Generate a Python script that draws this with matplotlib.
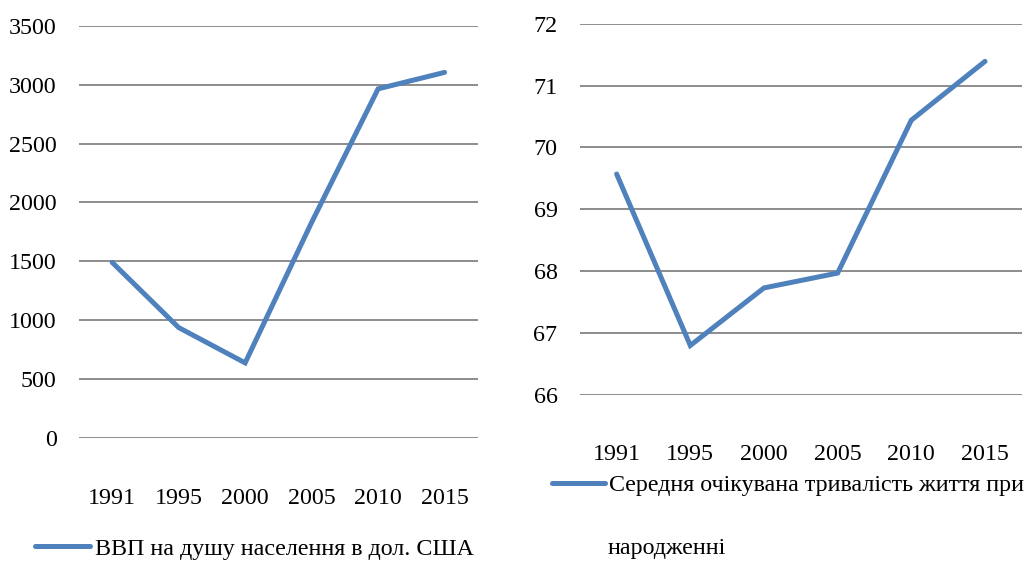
import matplotlib
matplotlib.use("Agg")
import matplotlib.pyplot as plt

years = ["1991", "1995", "2000", "2005", "2010", "2015"]
gdp = [1490, 936, 636, 1830, 2965, 3105]
life = [69.57, 66.80, 67.73, 67.97, 70.44, 71.39]

gdp_label = "ВВП на душу населення в дол. США"
life_label = "Середня очікувана тривалість життя при"
life_label2 = "народженні"

FS = 17.3
plt.rcParams['font.family'] = ['Liberation Serif', 'DejaVu Serif']
plt.rcParams['font.size'] = FS

color = "#4F81BD"
grid_color = "#8c8c8c"

fig = plt.figure(figsize=(10.28, 5.61), dpi=100)
ax1 = fig.add_axes([0.0768, 0.2198, 0.388, 0.734])
ax2 = fig.add_axes([0.564, 0.2959, 0.430, 0.662])

def style(ax, yticks, xpad):
    for s in ax.spines.values():
        s.set_visible(False)
    ax.set_yticks(yticks)
    ax.yaxis.grid(True, color=grid_color, linewidth=1.4)
    ax.set_axisbelow(True)
    ax.tick_params(axis='both', length=0, labelsize=FS)
    ax.tick_params(axis='y', pad=16)
    ax.tick_params(axis='x', pad=xpad)
    ax.set_xlim(-0.5, len(years) - 0.5)

x = range(len(years))
l1, = ax1.plot(x, gdp, color=color, linewidth=3.6, solid_capstyle='round', solid_joinstyle='miter')
ax1.set_ylim(0, 3500)
style(ax1, range(0, 3501, 500), 36)
ax1.set_xticks(list(x))
ax1.set_xticklabels(years)

l2, = ax2.plot(x, life, color=color, linewidth=3.6, solid_capstyle='round', solid_joinstyle='miter')
ax2.set_ylim(66, 72)
style(ax2, range(66, 73), 35)
ax2.set_xticks(list(x))
ax2.set_xticklabels(years)

fig.legend([l1], [gdp_label], loc='center left', bbox_to_anchor=(0.034, 0.022),
           frameon=False, handlelength=2.3, handletextpad=0.2, fontsize=FS,
           borderpad=0, borderaxespad=0)
fig.legend([l2], [life_label], loc='center left', bbox_to_anchor=(0.537, 0.135),
           frameon=False, handlelength=2.2, handletextpad=0.15, fontsize=FS,
           borderpad=0, borderaxespad=0)
fig.text(0.591, 0.022, life_label2, fontsize=FS, va='center', ha='left')

fig.savefig("out.png", dpi=100)
